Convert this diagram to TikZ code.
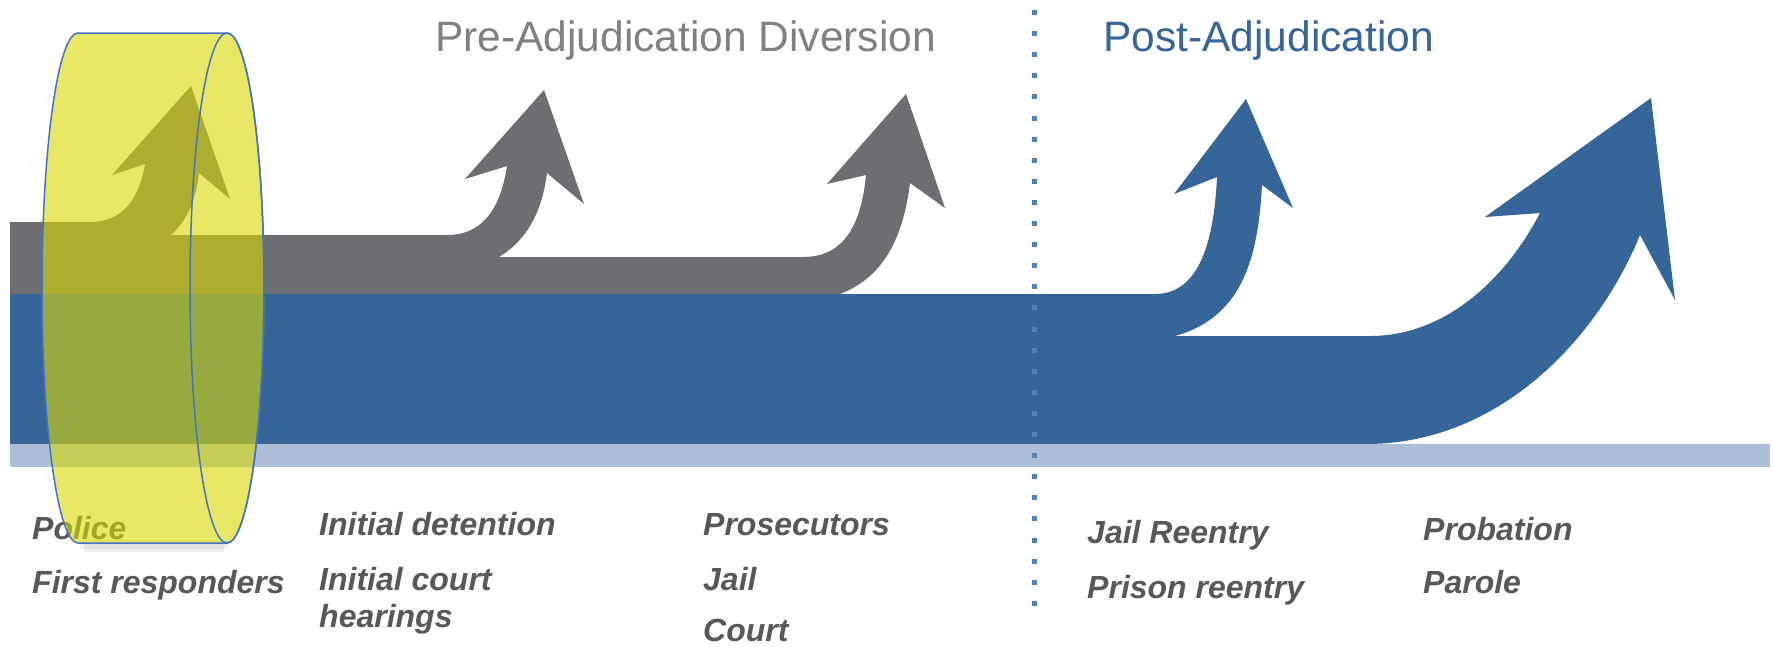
\documentclass[tikz,border=0pt]{standalone}
\usepackage{fontspec}
\setmainfont{Liberation Sans}
\definecolor{grayarrow}{RGB}{109,110,113}
\definecolor{bluearrow}{RGB}{54,101,153}
\definecolor{lightband}{RGB}{173,191,214}
\definecolor{cylfill}{RGB}{217,217,0}
\definecolor{cylline}{RGB}{68,114,196}
\definecolor{dotblue}{RGB}{79,129,189}
\definecolor{titlegray}{RGB}{128,128,128}
\definecolor{labelgray}{RGB}{88,88,90}
\tikzset{
  greyshape/.style={fill=grayarrow},
  blueshape/.style={fill=bluearrow},
  bandshape/.style={fill=lightband},
  cyl/.style={fill=cylfill,fill opacity=0.6,draw=cylline,line width=1.5pt,draw opacity=1},
  cylface/.style={draw=cylline,line width=1.5pt},
  cylshadow/.style={fill=black,fill opacity=0.06},
  dotline/.style={draw=dotblue,line width=5pt,dash pattern=on 5pt off 16.1pt},
  lbl/.style={inner sep=0pt,anchor=base west,text=labelgray,font=\bfseries\itshape\fontsize{32}{37}\selectfont},
  ttl/.style={inner sep=0pt,anchor=base west,font=\fontsize{42.5}{50}\selectfont}
}
\begin{document}
\begin{tikzpicture}[x=1pt,y=-1pt]
\useasboundingbox (0,0) rectangle (1773,646);
\fill[white] (0,0) rectangle (1773,646);
% grey band with three arrows
\fill[greyshape] (10,222) -- (90,222) .. controls (122,222) and (139,200) .. (145,164)
  -- (112,175) -- (191,86) -- (230,199) -- (199,173)
  .. controls (195,205) and (185,222) .. (171,235)
  -- (447,235) .. controls (485,235) and (501,205) .. (507,166)
  -- (465,179) -- (544,90) -- (584,204) -- (547,173)
  .. controls (542,212) and (527,240) .. (499,257)
  -- (803,257) .. controls (842,257) and (861,228) .. (866,175)
  -- (827,184) -- (906,94) -- (945,208) -- (910,183)
  .. controls (903,240) and (882,278) .. (840,294)
  -- (10,294) -- cycle;
% blue band with two arrows
\fill[blueshape] (10,294) -- (1155,294) .. controls (1199,294) and (1214,242) .. (1217,177)
  -- (1174,194) -- (1246,99) -- (1293,208) -- (1262,185)
  .. controls (1258,262) and (1240,318) .. (1175,336)
  -- (1370,336) .. controls (1445,336) and (1505,280) .. (1540,213)
  -- (1485,217) -- (1651,98) -- (1675,300) -- (1640,235)
  .. controls (1598,338) and (1500,444) .. (1366,444)
  -- (10,444) -- cycle;
\fill[bandshape] (10,444) rectangle (1770,467);
% titles
\node[ttl,text=titlegray] (pre) at (435,51) {Pre-Adjudication Diversion};
\node[ttl,text=bluearrow] (post) at (1103,51) {Post-Adjudication};
% labels
\node[lbl] (police) at (32,539) {Police};
\node[lbl] (first) at (32,593) {First responders};
\node[lbl] (detention) at (319,535) {Initial detention};
\node[lbl] (court1) at (319,590) {Initial court};
\node[lbl] (hearings) at (319,627) {hearings};
\node[lbl] (prosecutors) at (703,535) {Prosecutors};
\node[lbl] (jail) at (703,590) {Jail};
\node[lbl] (court) at (703,641) {Court};
\node[lbl] (jailre) at (1087,543) {Jail Reentry};
\node[lbl] (prisonre) at (1087,598) {Prison reentry};
\node[lbl] (probation) at (1423,540) {Probation};
\node[lbl] (parole) at (1423,593) {Parole};
% divider
\coordinate (divtop) at (1034,10);
\coordinate (divbot) at (1034,606);
\draw[dotline] (divtop) -- (divbot);
% cylinder shadow
\fill[cylshadow] (80,540) rectangle (228,549);
\fill[cylshadow] (84,543) rectangle (224,552);
% cylinder
\path[cyl] (78,33) -- (227,33) arc[start angle=-90, end angle=90, x radius=37, y radius=255]
  -- (78,543) arc[start angle=90, end angle=270, x radius=36, y radius=255] -- cycle;
\draw[cylface] (227,288) ellipse[x radius=37, y radius=255];
\end{tikzpicture}
\end{document}
